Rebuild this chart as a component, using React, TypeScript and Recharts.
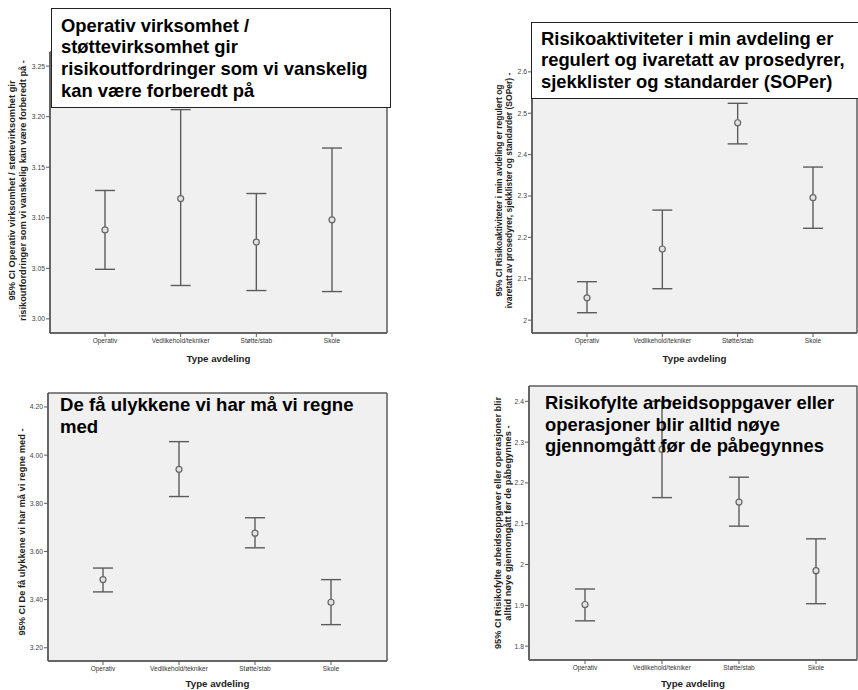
import React from "react";
import { ComposedChart, Line, ErrorBar, XAxis, YAxis, CartesianGrid } from "recharts";

const categories = ["Operativ", "Vedlikehold/tekniker", "Støtte/stab", "Skole"];
const xAxisTitle = "Type avdeling";

// 1: Operativ virksomhet / støttevirksomhet ...
const p1Mean = [3.088, 3.119, 3.076, 3.098];
const p1Low = [3.049, 3.033, 3.028, 3.027];
const p1High = [3.127, 3.207, 3.124, 3.169];
const p1Ticks = [3.0, 3.05, 3.1, 3.15, 3.2, 3.25];

// 2: Risikoaktiviteter i min avdeling ...
const p2Mean = [2.054, 2.172, 2.477, 2.296];
const p2Low = [2.018, 2.076, 2.426, 2.222];
const p2High = [2.093, 2.266, 2.524, 2.37];
const p2Ticks = [2.0, 2.1, 2.2, 2.3, 2.4, 2.5, 2.6];

// 3: De få ulykkene ...
const p3Mean = [3.483, 3.941, 3.676, 3.389];
const p3Low = [3.432, 3.828, 3.615, 3.296];
const p3High = [3.531, 4.056, 3.74, 3.483];
const p3Ticks = [3.2, 3.4, 3.6, 3.8, 4.0, 4.2];

// 4: Risikofylte arbeidsoppgaver ...
const p4Mean = [1.902, 2.282, 2.153, 1.985];
const p4Low = [1.862, 2.164, 2.094, 1.904];
const p4High = [1.94, 2.4, 2.214, 2.063];
const p4Ticks = [1.8, 1.9, 2.0, 2.1, 2.2, 2.3, 2.4];

const FONT = "'Liberation Sans', Arial, sans-serif";
const LINE = "#5c5c5c";

type PanelProps = {
  left: number;
  top: number;
  width: number;
  height: number;
  margin: { top: number; right: number; left: number; bottom: number };
  yWidth: number;
  xHeight: number;
  pad: { left: number; right: number };
  domain: [number, number];
  ticks: number[];
  fmt: (v: number) => string;
  mean: number[];
  low: number[];
  high: number[];
  yTitle: string[];
  yTitleX: number[];
  yTitleSize: number;
  titleOffset: number;
};

const gridV = ({ offset }: any) => [offset.left, offset.left + offset.width];
const gridH = ({ offset }: any) => [offset.top, offset.top + offset.height];

function Panel(p: PanelProps) {
  const data = categories.map((cat, i) => ({
    cat,
    mean: p.mean[i],
    err: [p.mean[i] - p.low[i], p.high[i] - p.mean[i]],
  }));

  const yLabel = (props: any) => {
    const vb = props.viewBox;
    const cy = vb.y + vb.height / 2 + p.titleOffset;
    return (
      <g>
        {p.yTitle.map((t, i) => {
          const cx = p.yTitleX[i] - p.left + 3.3;
          return (
            <text
              key={i}
              x={cx}
              y={cy}
              transform={`rotate(-90 ${cx} ${cy})`}
              textAnchor="middle"
              fontSize={p.yTitleSize}
              fontWeight="bold"
              fontFamily={FONT}
              fill="#222"
            >
              {t}
            </text>
          );
        })}
      </g>
    );
  };

  return (
    <div style={{ position: "absolute", left: p.left, top: p.top }}>
      <ComposedChart width={p.width} height={p.height} data={data} margin={p.margin}>
        <CartesianGrid
          fill="#f0f0f0"
          stroke={LINE}
          strokeWidth={1.5}
          verticalCoordinatesGenerator={gridV}
          horizontalCoordinatesGenerator={gridH}
        />
        <XAxis
          dataKey="cat"
          type="category"
          scale="point"
          padding={p.pad}
          height={p.xHeight}
          tickSize={4}
          tickMargin={1}
          interval={0}
          axisLine={{ stroke: LINE, strokeWidth: 1.5 }}
          tickLine={{ stroke: LINE }}
          tick={{ fontSize: 6.5, fill: "#333", fontFamily: FONT }}
          label={{
            value: xAxisTitle,
            position: "insideBottom",
            offset: 3,
            style: { fontSize: 9.7, fontWeight: "bold", fill: "#222", fontFamily: FONT },
          }}
        />
        <YAxis
          type="number"
          domain={p.domain}
          ticks={p.ticks}
          allowDataOverflow
          width={p.yWidth}
          tickSize={4}
          tickMargin={1}
          tickFormatter={p.fmt}
          axisLine={{ stroke: LINE, strokeWidth: 1.5 }}
          tickLine={{ stroke: LINE }}
          tick={{ fontSize: 6.8, fill: "#444", fontFamily: FONT }}
          label={{ content: yLabel }}
        />
        <Line
          dataKey="mean"
          stroke="none"
          isAnimationActive={false}
          dot={{ r: 3, fill: "#e2e2e2", stroke: "#666", strokeWidth: 1.2 }}
          activeDot={false}
        >
          <ErrorBar dataKey="err" width={10} stroke={LINE} strokeWidth={1.4} direction="y" />
        </Line>
      </ComposedChart>
    </div>
  );
}

const two = (v: number) => v.toFixed(2);
const short = (v: number) => String(Math.round(v * 10) / 10);

const titleStyle: React.CSSProperties = {
  position: "absolute",
  fontFamily: FONT,
  fontWeight: "bold",
  fontSize: 18.4,
  lineHeight: "21.7px",
  color: "#000",
  whiteSpace: "nowrap",
};

export default function App() {
  return (
    <div
      style={{
        position: "absolute",
        left: 0,
        top: 0,
        width: 858,
        height: 690,
        overflow: "hidden",
        background: "#fff",
        fontFamily: FONT,
      }}
    >
      <Panel
        left={0}
        top={0}
        width={429}
        height={365}
        margin={{ top: 52, right: 42, left: 0, bottom: 0 }}
        yWidth={50}
        xHeight={32}
        pad={{ left: 55, right: 55 }}
        domain={[2.986, 3.264]}
        ticks={p1Ticks}
        fmt={two}
        mean={p1Mean}
        low={p1Low}
        high={p1High}
        yTitle={[
          "95% CI Operativ virksomhet / støttevirksomhet gir",
          "risikoutfordringer som vi vanskelig kan være forberedt på -",
        ]}
        yTitleX={[12, 23]}
        yTitleSize={9.3}
        titleOffset={-2}
      />
      <Panel
        left={429}
        top={0}
        width={429}
        height={365}
        margin={{ top: 52, right: 1, left: 53, bottom: 0 }}
        yWidth={50}
        xHeight={32}
        pad={{ left: 55, right: 44 }}
        domain={[1.969, 2.648]}
        ticks={p2Ticks}
        fmt={short}
        mean={p2Mean}
        low={p2Low}
        high={p2High}
        yTitle={[
          "95% CI Risikoaktiviteter i min avdeling er regulert og",
          "ivaretatt av prosedyrer, sjekklister og standarder (SOPer) -",
        ]}
        yTitleX={[499, 508.5]}
        yTitleSize={8.5}
        titleOffset={-2}
      />
      <Panel
        left={0}
        top={360}
        width={429}
        height={330}
        margin={{ top: 33, right: 42, left: 0, bottom: 0 }}
        yWidth={48}
        xHeight={29}
        pad={{ left: 55, right: 56 }}
        domain={[3.145, 4.258]}
        ticks={p3Ticks}
        fmt={two}
        mean={p3Mean}
        low={p3Low}
        high={p3High}
        yTitle={["95% CI De få ulykkene vi har må vi regne med -"]}
        yTitleX={[22]}
        yTitleSize={9.3}
        titleOffset={5}
      />
      <Panel
        left={429}
        top={360}
        width={429}
        height={330}
        margin={{ top: 26, right: 1, left: 50, bottom: 0 }}
        yWidth={50}
        xHeight={30}
        pad={{ left: 56, right: 41 }}
        domain={[1.766, 2.4375]}
        ticks={p4Ticks}
        fmt={short}
        mean={p4Mean}
        low={p4Low}
        high={p4High}
        yTitle={[
          "95% CI Risikofylte arbeidsoppgaver eller operasjoner blir",
          "alltid nøye gjennomgått før de påbegynnes -",
        ]}
        yTitleX={[498, 508]}
        yTitleSize={9.3}
        titleOffset={0}
      />

      <div
        style={{
          ...titleStyle,
          left: 51,
          top: 8,
          width: 340,
          height: 100,
          boxSizing: "border-box",
          border: "1.5px solid #222",
          background: "#fff",
          padding: "5.5px 0 0 9px",
        }}
      >
        Operativ virksomhet /<br />
        støttevirksomhet gir<br />
        risikoutfordringer som vi vanskelig<br />
        kan være forberedt på
      </div>
      <div
        style={{
          ...titleStyle,
          left: 531,
          top: 22,
          width: 340,
          height: 77,
          boxSizing: "border-box",
          border: "1.5px solid #222",
          background: "#fff",
          padding: "4.5px 0 0 9px",
        }}
      >
        Risikoaktiviteter i min avdeling er<br />
        regulert og ivaretatt av prosedyrer,<br />
        sjekklister og standarder (SOPer)
      </div>
      <div style={{ ...titleStyle, left: 60, top: 393.5, fontSize: 18.6, lineHeight: "22.3px" }}>
        De få ulykkene vi har må vi regne<br />
        med
      </div>
      <div style={{ ...titleStyle, left: 545, top: 392 }}>
        Risikofylte arbeidsoppgaver eller<br />
        operasjoner blir alltid nøye<br />
        gjennomgått før de påbegynnes
      </div>
    </div>
  );
}
